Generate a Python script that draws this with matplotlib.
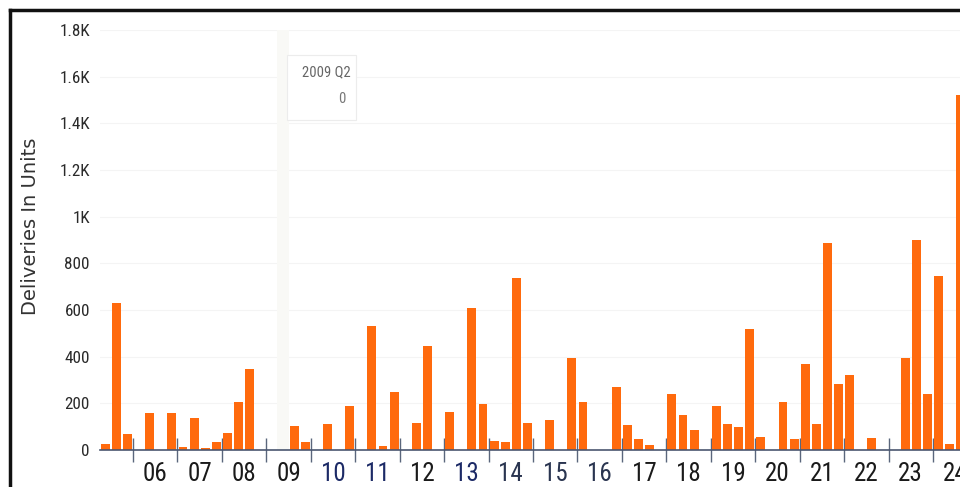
import numpy as np
import matplotlib
matplotlib.use("Agg")
import matplotlib.pyplot as plt
import matplotlib.font_manager as fm
from matplotlib.lines import Line2D
from matplotlib.patches import Rectangle

# ---------------- data ----------------
first_year = 2005
periods = (["2005 Q2", "2005 Q3", "2005 Q4"]
           + [f"{y} Q{q}" for y in range(2006, 2024) for q in range(1, 5)]
           + ["2024 Q1", "2024 Q2", "2024 Q3"])
deliveries = [
    25, 630, 68,              # 2005 Q2-Q4
    0, 160, 0, 158,           # 2006
    12, 138, 8, 33,           # 2007
    74, 205, 348, 0,          # 2008
    0, 0, 103, 34,            # 2009
    0, 111, 0, 190,           # 2010
    0, 532, 18, 250,          # 2011
    0, 114, 445, 0,           # 2012
    164, 0, 607, 197,         # 2013
    39, 33, 738, 117,         # 2014
    0, 128, 0, 395,           # 2015
    207, 0, 0, 268,           # 2016
    107, 47, 21, 0,           # 2017
    240, 150, 86, 0,          # 2018
    190, 111, 100, 517,       # 2019
    57, 0, 207, 47,           # 2020
    367, 110, 888, 283,       # 2021
    321, 0, 53, 0,            # 2022
    0, 395, 902, 240,         # 2023
    745, 26, 1520,            # 2024 Q1-Q3
]
year_labels = [f"{y % 100:02d}" for y in range(2006, 2025)]
y_ticks = [0, 200, 400, 600, 800, 1000, 1200, 1400, 1600, 1800]
y_tick_labels = ["0", "200", "400", "600", "800", "1K", "1.2K", "1.4K", "1.6K", "1.8K"]
hover_period = "2009 Q2"
hover_value = "0"

# ---------------- fonts ----------------
ttf = fm.fontManager.ttflist
names = {f.name for f in ttf}
tick_font = None
for cand in ["Liberation Sans Narrow", "Arial Narrow", "Roboto Condensed",
             "Open Sans Condensed", "DejaVu Sans Condensed"]:
    if cand in names:
        tick_font = {"family": cand}
        break
if tick_font is None:
    if any(f.name == "DejaVu Sans" and "condensed" in str(f.stretch) for f in ttf):
        tick_font = {"family": "DejaVu Sans", "stretch": "condensed"}
    else:
        tick_font = {"family": "Liberation Sans"}


def qindex(p):
    y, q = p.split(" Q")
    return (int(y) - first_year) * 4 + int(q) - 1


x = np.array([qindex(p) for p in periods], dtype=float)
vals = np.array(deliveries, dtype=float)

W, H = 960, 487
fig = plt.figure(figsize=(W / 100, H / 100), dpi=100)
left_px, right_px, top_px, base_px = 99.7, 960.0, 30.0, 450.0
ax = fig.add_axes([left_px / W, 1 - base_px / H, (right_px - left_px) / W,
                   (base_px - top_px) / H])

quarter_px = 11.11
ax.set_xlim(0.5, 0.5 + (right_px - left_px) / quarter_px)
ax.set_ylim(0, 1800)

# faint grid
for yt in y_ticks[1:]:
    ax.axhline(yt, color="#f4f4f4", lw=0.8, zorder=0)

# hover band + tooltip
hx = qindex(hover_period)
ax.axvspan(hx - 0.55, hx + 0.55, color="#f9f9f6", zorder=0.5, lw=0)
ax.add_patch(Rectangle((hx + 0.4, 1413), 6.2, 280, facecolor="white",
                       edgecolor="#ececec", lw=0.8, zorder=1))
ax.text(hx + 3.9, 1619, hover_period, ha="center", va="center",
        color="#666666", fontsize=10.5, **tick_font, zorder=2)
ax.text(hx + 5.3, 1503, hover_value, ha="center", va="center",
        color="#777777", fontsize=10.5, **tick_font, zorder=2)

ax.bar(x, vals, width=0.8, color="#FF6A0D", edgecolor="none", zorder=3)

# axes styling
for s in ["top", "right", "left"]:
    ax.spines[s].set_visible(False)
ax.spines["bottom"].set_color("#4a5670")
ax.spines["bottom"].set_linewidth(1.2)
ax.spines["bottom"].set_zorder(4)

ax.set_yticks(y_ticks)
ax.set_yticklabels(y_tick_labels, **tick_font)
ax.tick_params(axis="y", length=0, pad=7, labelsize=12.3, labelcolor="#2a2a2a")

year_bounds = [4 * k - 0.5 for k in range(1, 20)]
year_centers = [4 * k + 1.5 for k in range(1, 20)]
ax.set_xticks(year_bounds)
ax.set_xticklabels([""] * len(year_bounds))
ax.tick_params(axis="x", which="major", direction="inout", length=17,
               width=1.0, color="#5a667c")
ax.set_xticks(year_centers, minor=True)
ax.set_xticklabels(year_labels, minor=True, **tick_font)
ax.tick_params(axis="x", which="minor", length=0, pad=8.5, labelsize=18)
navy = {"10", "11", "13"}
slate = {"14", "15", "16"}
for lab in ax.get_xticklabels(minor=True):
    t = lab.get_text()
    lab.set_color("#1c2a66" if t in navy else ("#2a3550" if t in slate else "#1a1a1a"))

ax.set_ylabel("Deliveries In Units", family="DejaVu Sans", fontsize=14,
              color="#333333")
ax.yaxis.set_label_coords((31 - left_px) / (right_px - left_px),
                          (base_px - 226) / (base_px - top_px))
ax.yaxis.label.set_va("center")

# scanned page frame (top and left)
fig.add_artist(Line2D([9.5 / W, 1.0], [1 - 9.5 / H, 1 - 9.5 / H],
                      color="#111111", lw=2.5, transform=fig.transFigure))
fig.add_artist(Line2D([9.5 / W, 9.5 / W], [0, 1 - 9.5 / H],
                      color="#111111", lw=2.5, transform=fig.transFigure))

fig.savefig("out.png", dpi=100)
